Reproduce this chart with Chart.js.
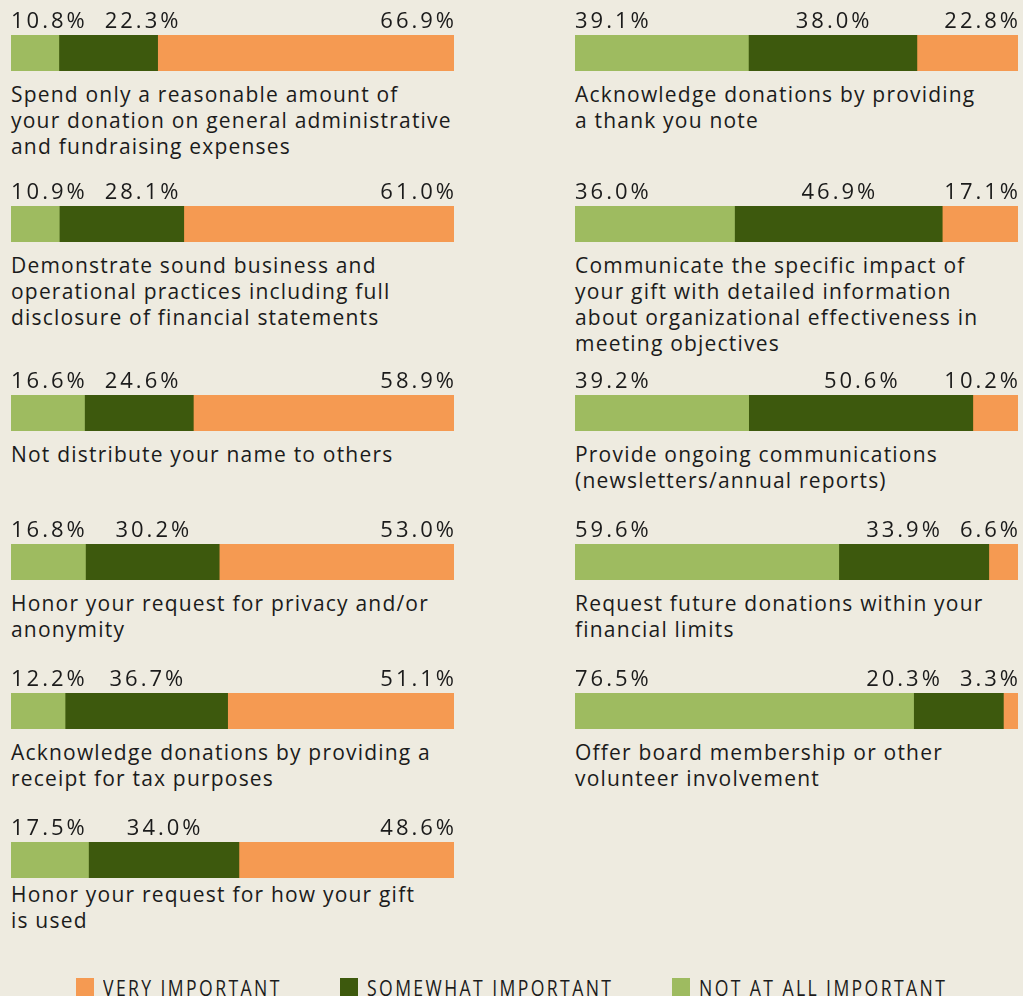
<!DOCTYPE html>
<html>
<head>
<meta charset="utf-8">
<script src="https://cdn.jsdelivr.net/npm/chart.js@4/dist/chart.umd.min.js"></script>
<style>
  html,body{margin:0;padding:0;}
  body{background:#EEEBE0;width:1023px;height:996px;overflow:hidden;position:relative;font-family:"Open Sans","Noto Sans",sans-serif;color:#1b1b1b;}
  .cv{position:absolute;}
  .cat{position:absolute;font-size:21px;line-height:26px;letter-spacing:1.2px;white-space:pre;color:#1b1b1b;}
  .legend{position:absolute;top:978px;left:0;width:1023px;height:30px;}
  .li{position:absolute;top:0;font-size:22px;letter-spacing:3px;line-height:22px;color:#1b1b1b;white-space:nowrap;transform:scaleX(0.8);transform-origin:0 0;}
  .sw{position:absolute;top:0;width:18px;height:24px;}
</style>
</head>
<body>
<script>
// ---------- data ----------
const categories = [
  "Spend only a reasonable amount of\nyour donation on general administrative\nand fundraising expenses",
  "Demonstrate sound business and\noperational practices including full\ndisclosure of financial statements",
  "Not distribute your name to others",
  "Honor your request for privacy and/or\nanonymity",
  "Acknowledge donations by providing a\nreceipt for tax purposes",
  "Honor your request for how your gift\nis used",
  "Acknowledge donations by providing\na thank you note",
  "Communicate the specific impact of\nyour gift with detailed information\nabout organizational effectiveness in\nmeeting objectives",
  "Provide ongoing communications\n(newsletters/annual reports)",
  "Request future donations within your\nfinancial limits",
  "Offer board membership or other\nvolunteer involvement"
];
const notAtAllImportant = [10.8, 10.9, 16.6, 16.8, 12.2, 17.5, 39.1, 36.0, 39.2, 59.6, 76.5];
const somewhatImportant = [22.3, 28.1, 24.6, 30.2, 36.7, 34.0, 38.0, 46.9, 50.6, 33.9, 20.3];
const veryImportant     = [66.9, 61.0, 58.9, 53.0, 51.1, 48.6, 22.8, 17.1, 10.2, 6.6, 3.3];
const seriesNames = ["NOT AT ALL IMPORTANT", "SOMEWHAT IMPORTANT", "VERY IMPORTANT"];

// ---------- styles / layout ----------
const colors = ["#9EBB60", "#3D590D", "#F59A52"];
const colX = [11, 575];
const barW = 443;
const barH = 36;
const rowTops = [35, 206, 395, 544, 693, 842];
const labelSpace = 34;
const catBaselineGap = [31, 31, 31, 31, 31, 24];

function spacedWidth(ctx, t, ls) {
  let w = 0;
  for (const ch of t) w += ctx.measureText(ch).width;
  return w + (t.length - 1) * ls;
}
function drawSpaced(ctx, t, x, y, ls) {
  for (const ch of t) {
    ctx.fillText(ch, x, y);
    x += ctx.measureText(ch).width + ls;
  }
}

const labelPlugin = {
  id: 'pctLabels',
  afterDatasetsDraw(chart) {
    const ctx = chart.ctx;
    const xs = chart.scales.x;
    const vals = chart.data.datasets.map(d => d.data[0]);
    const meta = chart.getDatasetMeta(0).data[0];
    const barTop = meta.y - meta.height / 2;
    const y = barTop - 7;
    ctx.save();
    ctx.font = '22px "Open Sans","Noto Sans",sans-serif';
    const ls = 3.0;
    ctx.fillStyle = '#1b1b1b';
    ctx.textBaseline = 'alphabetic';
    ctx.textAlign = 'left';
    const txt = vals.map(v => v.toFixed(1) + '%');
    const w = txt.map(t => spacedWidth(ctx, t, ls));
    const gap = 20;
    const x0 = xs.getPixelForValue(0);
    drawSpaced(ctx, txt[0], x0, y, ls);
    const firstEnd = x0 + w[0];
    const total = vals.reduce((a, b) => a + b, 0);
    const xEnd = xs.getPixelForValue(total);
    const lastStart = xEnd - w[2];
    drawSpaced(ctx, txt[2], lastStart, y, ls);
    const cx = xs.getPixelForValue(vals[0] + vals[1] / 2);
    let mx = cx - w[1] / 2;
    if (mx < firstEnd + gap) mx = firstEnd + gap;
    if (mx + w[1] > lastStart - gap) mx = lastStart - gap - w[1];
    drawSpaced(ctx, txt[1], mx, y, ls);
    ctx.restore();
  }
};

function makeBar(i) {
  const col = i < 6 ? 0 : 1;
  const row = i < 6 ? i : i - 6;
  const top = rowTops[row];
  const canvas = document.createElement('canvas');
  canvas.className = 'cv';
  canvas.style.left = colX[col] + 'px';
  canvas.style.top = (top - labelSpace) + 'px';
  canvas.style.width = barW + 'px';
  canvas.style.height = (labelSpace + barH) + 'px';
  canvas.width = barW; canvas.height = labelSpace + barH;
  document.body.appendChild(canvas);
  const series = [notAtAllImportant[i], somewhatImportant[i], veryImportant[i]];
  const total = series.reduce((a, b) => a + b, 0);
  new Chart(canvas, {
    type: 'bar',
    data: {
      labels: [categories[i]],
      datasets: seriesNames.map((n, k) => ({
        label: n,
        data: [series[k]],
        backgroundColor: colors[k],
        borderWidth: 0,
        barPercentage: 1,
        categoryPercentage: 1
      }))
    },
    options: {
      indexAxis: 'y',
      responsive: false,
      animation: false,
      devicePixelRatio: 1,
      layout: { padding: { top: labelSpace, left: 0, right: 0, bottom: 0 } },
      scales: {
        x: { stacked: true, min: 0, max: total, display: false },
        y: { stacked: true, display: false }
      },
      plugins: { legend: { display: false }, tooltip: { enabled: false }, title: { display: false } }
    },
    plugins: [labelPlugin]
  });
  const cat = document.createElement('div');
  cat.className = 'cat';
  cat.textContent = categories[i];
  cat.style.left = colX[col] + 'px';
  const baseline = top + barH + catBaselineGap[row];
  cat.style.top = (baseline - 21) + 'px';
  document.body.appendChild(cat);
}

for (let i = 0; i < categories.length; i++) makeBar(i);

// legend (order: very, somewhat, not at all)
const legendOrder = [2, 1, 0];
const legendSwX = [76, 340, 672];
const legend = document.createElement('div');
legend.className = 'legend';
legendOrder.forEach((k, j) => {
  const sw = document.createElement('div');
  sw.className = 'sw';
  sw.style.left = legendSwX[j] + 'px';
  sw.style.background = colors[k];
  legend.appendChild(sw);
  const t = document.createElement('div');
  t.className = 'li';
  t.style.left = (legendSwX[j] + 27) + 'px';
  t.style.top = '-2px';
  t.textContent = seriesNames[k];
  legend.appendChild(t);
});
document.body.appendChild(legend);
</script>
</body>
</html>
